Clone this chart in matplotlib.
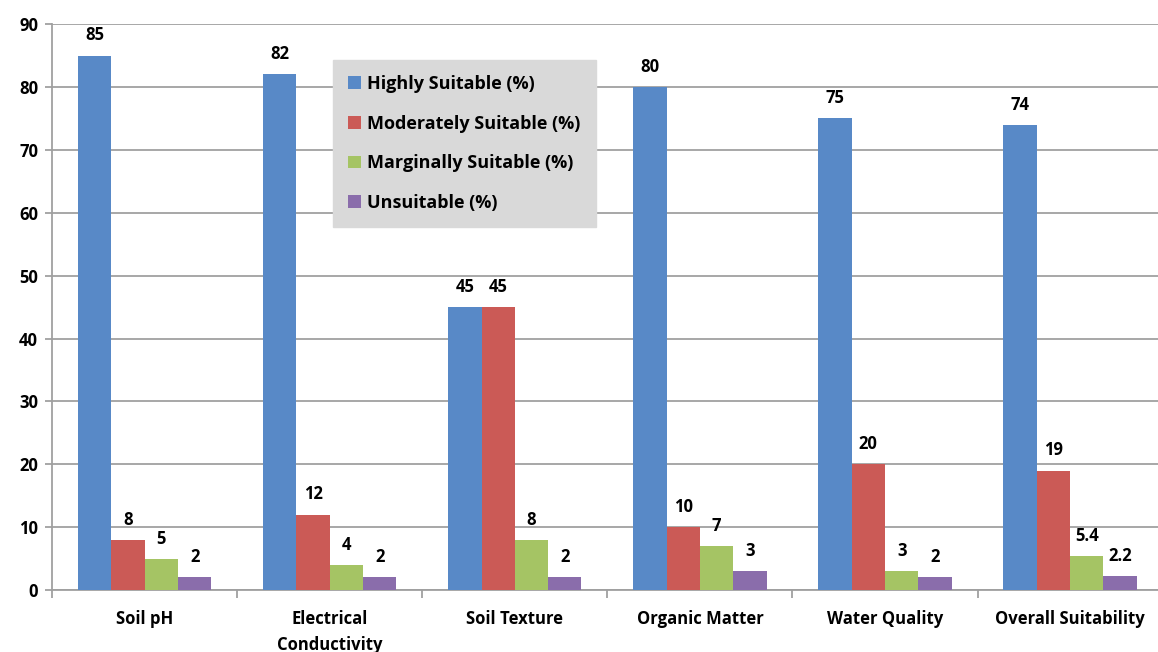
import matplotlib
matplotlib.use("Agg")
import matplotlib.pyplot as plt
import numpy as np

categories = ["Soil pH", "Electrical\nConductivity", "Soil Texture", "Organic Matter", "Water Quality", "Overall Suitability"]
series_names = ["Highly Suitable (%)", "Moderately Suitable (%)", "Marginally Suitable (%)", "Unsuitable (%)"]
highly = [85, 82, 45, 80, 75, 74]
moderately = [8, 12, 45, 10, 20, 19]
marginally = [5, 4, 8, 7, 3, 5.4]
unsuitable = [2, 2, 2, 3, 2, 2.2]
colors = ["#5889C7", "#CB5A56", "#A5C464", "#8A6DAB"]

plt.rcParams['font.family'] = ['Open Sans', 'DejaVu Sans']

fig = plt.figure(figsize=(11.58, 6.52), dpi=100)
ax = fig.add_axes([0.045, 0.095, 0.959, 0.868])

series = [highly, moderately, marginally, unsuitable]
x = np.arange(len(categories))
w = 0.18
for i, (vals, name, c) in enumerate(zip(series, series_names, colors)):
    pos = x + (i - 1.5) * w
    ax.bar(pos, vals, width=w, color=c, label=name, zorder=3)
    for xp, v in zip(pos, vals):
        ax.annotate(f"{v:g}", (xp, v), xytext=(0, 8), textcoords="offset points",
                    ha="center", va="bottom", fontsize=12, fontweight="bold", color="black")

ax.set_xlim(-0.5, len(categories) - 0.5)
ax.set_ylim(0, 90)
ax.set_yticks(range(0, 91, 10))
ax.yaxis.grid(True, color="#A0A0A0", linewidth=1.3, zorder=0)
ax.set_axisbelow(True)
for s in ["top", "right"]:
    ax.spines[s].set_visible(False)
for s in ["left", "bottom"]:
    ax.spines[s].set_color("#A0A0A0")
    ax.spines[s].set_linewidth(1.3)

ax.set_xticks(x)
ax.set_xticklabels(categories, fontsize=12, fontweight="bold", linespacing=1.6)
ax.set_xticks(np.arange(-0.5, len(categories), 1), minor=True)
ax.tick_params(axis="x", which="major", length=0, pad=14)
ax.tick_params(axis="x", which="minor", length=6, color="#A0A0A0", width=1.3)
ax.tick_params(axis="y", length=5, color="#A0A0A0", width=1.3, labelsize=12, pad=5)
for lab in ax.get_yticklabels():
    lab.set_fontweight("bold")

leg = ax.legend(loc="upper left", bbox_to_anchor=(0.253, 0.937), frameon=True,
                fancybox=False, facecolor="#D9D9D9", edgecolor="#D9D9D9", framealpha=1,
                prop={"size": 13, "weight": "bold"}, handlelength=0.7, handleheight=0.7,
                handletextpad=0.35, labelspacing=1.2, borderpad=0.85, borderaxespad=0)
leg.set_zorder(5)

fig.savefig("out.png", dpi=100)
